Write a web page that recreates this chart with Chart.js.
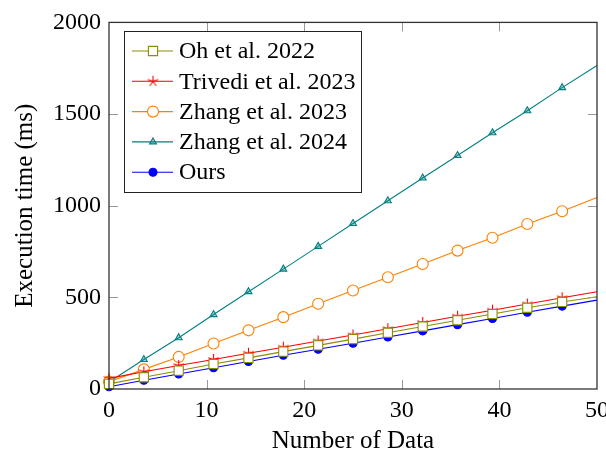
<!DOCTYPE html>
<html>
<head>
<meta charset="utf-8">
<script src="https://cdn.jsdelivr.net/npm/chart.js@4/dist/chart.umd.min.js"></script>
<style>
  body { margin: 0; background: #fff; }
  canvas { display: block; }
</style>
</head>
<body>
<canvas class="exec-chart" width="606" height="457"></canvas>
<script>
const xs = [0, 3.57, 7.14, 10.71, 14.29, 17.86, 21.43, 25, 28.57, 32.14, 35.71, 39.29, 42.86, 46.43, 50];
const oh2022 = [28, 64, 100, 136, 170, 204, 238, 272, 307, 341, 375, 409, 443, 475, 503];
const trivedi2023 = [58, 94, 128, 161, 195, 228, 262, 295, 329, 363, 397, 430, 464, 498, 531];
const zhang2023 = [40, 107, 175, 248, 320, 392, 465, 537, 610, 682, 755, 825, 900, 970, 1045];
const zhang2024 = [38, 161, 280, 406, 531, 654, 778, 903, 1027, 1151, 1274, 1398, 1518, 1644, 1765];
const ours = [12, 48, 82, 116, 150, 184, 217, 250, 284, 317, 351, 385, 419, 452, 485];

const xTicks = [0, 10, 20, 30, 40, 50];
const yTicks = [0, 500, 1000, 1500, 2000];

const FONT = "'Liberation Serif', serif";

// pgfplots-like 5 ray star
function makeStar(color) {
    const c = document.createElement('canvas');
    c.width = 13; c.height = 13;
    const g = c.getContext('2d');
    g.strokeStyle = color;
    g.lineWidth = 1.1;
    g.beginPath();
    for (let k = 0; k < 5; k++) {
        const a = -Math.PI / 2 + k * 2 * Math.PI / 5;
        g.moveTo(6.5, 6.5);
        g.lineTo(6.5 + 5.5 * Math.cos(a), 6.5 + 5.5 * Math.sin(a));
    }
    g.stroke();
    return c;
}

function series(label, values, color, style, radius, fill) {
    const last = values.length - 1;
    return {
        label: label,
        data: xs.map((x, i) => ({x: x, y: values[i]})),
        borderColor: color,
        borderWidth: 1.1,
        pointStyle: style,
        pointRadius: ctx => ctx.dataIndex === last ? 0 : radius,
        legendRadius: radius,
        pointBorderColor: color,
        pointBackgroundColor: fill,
        pointBorderWidth: 1.1,
        tension: 0,
        clip: false,
    };
}

const frameAndLegend = {
    id: 'frameAndLegend',
    afterDatasetsDraw(chart) {
        const ctx = chart.ctx;
        const a = chart.chartArea;
        const xs_ = chart.scales.x, ys_ = chart.scales.y;
        ctx.save();
        // inward ticks
        ctx.strokeStyle = '#999';
        ctx.lineWidth = 1;
        xTicks.slice(1, -1).forEach(v => {
            const px = Math.round(xs_.getPixelForValue(v)) + 0.5;
            ctx.beginPath();
            ctx.moveTo(px, a.bottom); ctx.lineTo(px, a.bottom - 9);
            ctx.moveTo(px, a.top); ctx.lineTo(px, a.top + 9);
            ctx.stroke();
        });
        yTicks.slice(1, -1).forEach(v => {
            const py = Math.round(ys_.getPixelForValue(v)) + 0.5;
            ctx.beginPath();
            ctx.moveTo(a.left, py); ctx.lineTo(a.left + 9, py);
            ctx.moveTo(a.right, py); ctx.lineTo(a.right - 9, py);
            ctx.stroke();
        });
        // frame
        ctx.strokeStyle = '#333';
        ctx.lineWidth = 1.3;
        ctx.strokeRect(a.left, a.top, a.right - a.left, a.bottom - a.top);

        // legend box
        const bx = 124, by = 31, bw = 237, bh = 161;
        ctx.fillStyle = '#fff';
        ctx.fillRect(bx, by, bw, bh);
        ctx.strokeStyle = '#222';
        ctx.lineWidth = 1;
        ctx.strokeRect(bx + 0.5, by + 0.5, bw, bh);
        ctx.font = '24px ' + FONT;
        ctx.textBaseline = 'middle';
        chart.data.datasets.forEach((ds, i) => {
            const cy = 51 + i * 30.3;
            ctx.strokeStyle = ds.borderColor;
            ctx.lineWidth = ds.borderWidth;
            ctx.beginPath();
            ctx.moveTo(132, cy); ctx.lineTo(173, cy);
            ctx.stroke();
            ctx.fillStyle = ds.pointBackgroundColor;
            ctx.strokeStyle = ds.pointBorderColor;
            ctx.lineWidth = ds.pointBorderWidth;
            Chart.helpers.drawPoint(ctx, {pointStyle: ds.pointStyle, radius: ds.legendRadius, rotation: 0, borderWidth: ds.pointBorderWidth}, 153, cy);
            ctx.fillStyle = '#000';
            ctx.fillText(ds.label, 179, cy + 1);
        });
        ctx.restore();
    }
};

document.addEventListener('DOMContentLoaded', () => {
    Chart.defaults.font.family = FONT;
    Chart.defaults.color = '#000';
    const ctx = document.querySelector('.exec-chart').getContext('2d');
    new Chart(ctx, {
        type: 'line',
        data: {
            datasets: [
                series('Oh et al. 2022', oh2022, '#8c8c00', 'rect', 6.5, '#fff'),
                series('Trivedi et al. 2023', trivedi2023, '#ff0000', makeStar('#ff0000'), 5.5, '#ff0000'),
                series('Zhang et al. 2023', zhang2023, '#ff8000', 'circle', 5.5, '#fff'),
                series('Zhang et al. 2024', zhang2024, '#008080', 'triangle', 4, 'rgba(0,128,128,0.35)'),
                series('Ours', ours, '#0000ff', 'circle', 4, '#0000ff'),
            ]
        },
        options: {
            responsive: false,
            animation: false,
            layout: { padding: { top: 20, right: 9, left: 0, bottom: 0 } },
            plugins: { legend: { display: false }, tooltip: { enabled: false } },
            scales: {
                x: {
                    type: 'linear',
                    min: 0, max: 50,
                    afterBuildTicks: s => { s.ticks = xTicks.map(v => ({value: v})); },
                    afterFit: s => { s.height = 68; s.paddingLeft = 0; s.paddingRight = 0; },
                    grid: { display: false, drawTicks: false },
                    border: { display: false },
                    ticks: { font: { size: 24 }, padding: 7, maxRotation: 0, callback: v => String(v) },
                    title: { display: true, text: 'Number of Data', font: { size: 25 }, padding: { bottom: 1, top: 0 } },
                },
                y: {
                    min: 0, max: 2000,
                    afterBuildTicks: s => { s.ticks = yTicks.map(v => ({value: v})); },
                    afterFit: s => { s.width = 109; },
                    grid: { display: false, drawTicks: false },
                    border: { display: false },
                    ticks: { font: { size: 24 }, padding: 8, callback: v => String(v) },
                    title: { display: true, text: 'Execution time (ms)', font: { size: 25 }, padding: { top: 10, bottom: 0 } },
                },
            },
        },
        plugins: [frameAndLegend],
    });
});
</script>
</body>
</html>
